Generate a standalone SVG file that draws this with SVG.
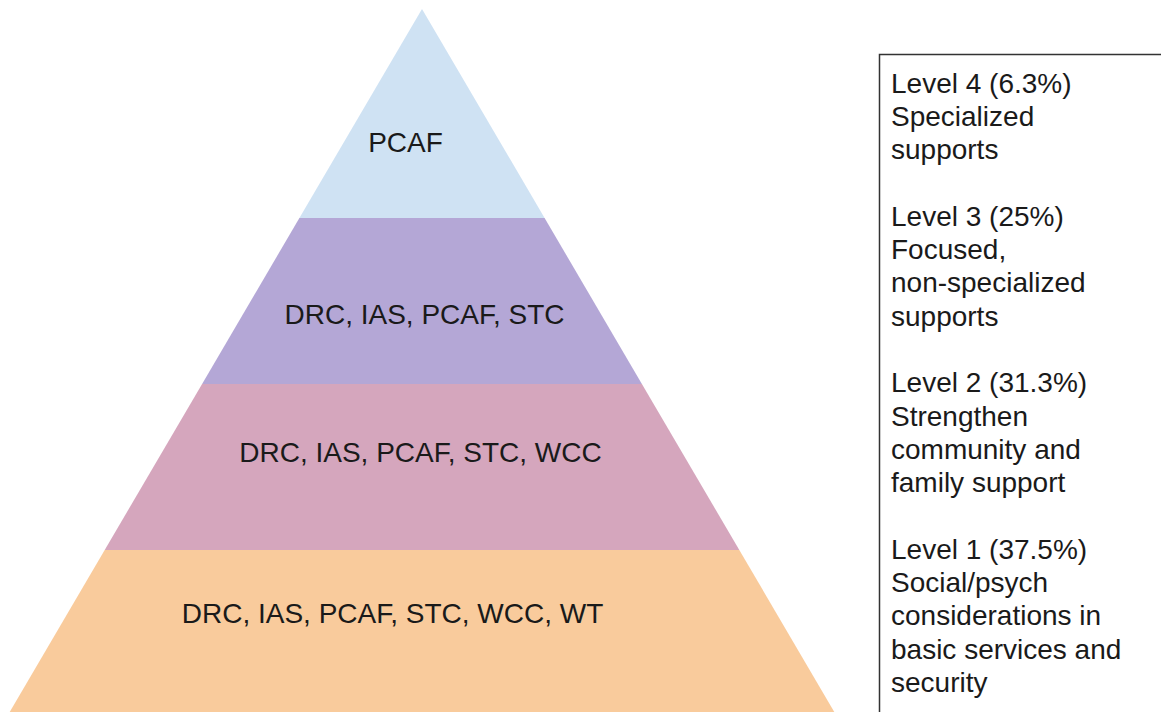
<svg xmlns="http://www.w3.org/2000/svg" width="1161" height="712" viewBox="0 0 1161 712">
  <style>
    .lbl { font-family: "Liberation Sans", Arial, sans-serif; font-size: 28px; fill: #1a1a1a; }
    .mid { text-anchor: middle; }
    .legend-box { fill: #ffffff; stroke: #333333; stroke-width: 1.5; }
  </style>
  <rect width="1161" height="712" fill="#ffffff"/>

  <!-- Pyramid tiers, apex at (422,9) -->
  <g id="tier-4">
    <polygon points="422,9 544.6,218 299.4,218" fill="#cfe2f3"/>
    <text class="lbl mid" x="405.5" y="152">PCAF</text>
  </g>
  <g id="tier-3">
    <polygon points="299.4,218 544.6,218 641.9,384 202.1,384" fill="#b4a7d6"/>
    <text class="lbl mid" x="424.5" y="324">DRC, IAS, PCAF, STC</text>
  </g>
  <g id="tier-2">
    <polygon points="202.1,384 641.9,384 739.3,550 104.7,550" fill="#d5a6bd"/>
    <text class="lbl mid" x="420.5" y="462">DRC, IAS, PCAF, STC, WCC</text>
  </g>
  <g id="tier-1">
    <polygon points="104.7,550 739.3,550 834.3,712 9.7,712" fill="#f9cb9c"/>
    <text class="lbl mid" x="392.5" y="623">DRC, IAS, PCAF, STC, WCC, WT</text>
  </g>

  <!-- Legend panel -->
  <g id="legend">
    <rect class="legend-box" x="879.5" y="54.5" width="300" height="680"/>
    <text class="lbl" x="891">
      <tspan x="891" y="92.6">Level 4 (6.3%)</tspan>
      <tspan x="891" y="125.9">Specialized</tspan>
      <tspan x="891" y="159.2">supports</tspan>
      <tspan x="891" y="225.8">Level 3 (25%)</tspan>
      <tspan x="891" y="259.1">Focused,</tspan>
      <tspan x="891" y="292.4">non-specialized</tspan>
      <tspan x="891" y="325.7">supports</tspan>
      <tspan x="891" y="392.3">Level 2 (31.3%)</tspan>
      <tspan x="891" y="425.6">Strengthen</tspan>
      <tspan x="891" y="458.9">community and</tspan>
      <tspan x="891" y="492.2">family support</tspan>
      <tspan x="891" y="558.8">Level 1 (37.5%)</tspan>
      <tspan x="891" y="592.1">Social/psych</tspan>
      <tspan x="891" y="625.4">considerations in</tspan>
      <tspan x="891" y="658.7">basic services and</tspan>
      <tspan x="891" y="692">security</tspan>
    </text>
  </g>

  <g id="connectors"></g>
</svg>
